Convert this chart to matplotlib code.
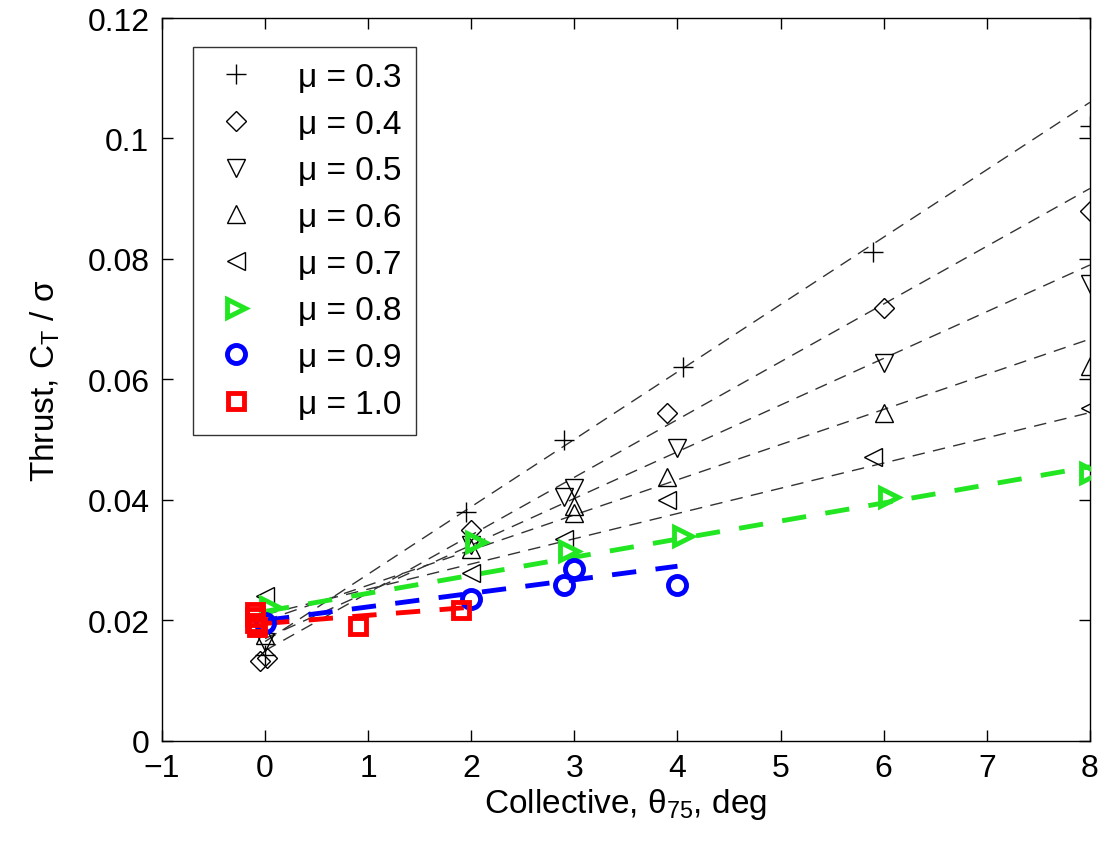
import matplotlib
matplotlib.use('Agg')
import matplotlib.pyplot as plt
import numpy as np

plt.rcParams['font.family'] = ['Liberation Sans', 'DejaVu Sans']
plt.rcParams['mathtext.fontset'] = 'custom'
plt.rcParams['mathtext.rm'] = 'Liberation Sans'
plt.rcParams['mathtext.it'] = 'Liberation Sans'
plt.rcParams['mathtext.default'] = 'rm'

# measured points, collective (deg) vs thrust CT/sigma
th_03 = [0.0, 1.95, 2.9, 4.05, 5.9, 8.0]
ct_03 = [0.0143, 0.0380, 0.0500, 0.0620, 0.0812, 0.1020]
th_04 = [-0.05, 0.02, 2.0, 3.9, 6.0, 8.0]
ct_04 = [0.0133, 0.0137, 0.0350, 0.0545, 0.0718, 0.0880]
th_05 = [0.0, 2.0, 2.9, 3.0, 4.0, 6.0, 8.0]
ct_05 = [0.0165, 0.0325, 0.0405, 0.0420, 0.0487, 0.0628, 0.0758]
th_06 = [0.0, 2.0, 3.0, 3.0, 3.9, 6.0, 8.0]
ct_06 = [0.0175, 0.0318, 0.0390, 0.0378, 0.0438, 0.0545, 0.0622]
th_07 = [0.0, 2.0, 2.9, 3.9, 5.9, 8.0]
ct_07 = [0.0240, 0.0278, 0.0335, 0.0400, 0.0472, 0.0553]
th_08 = [0.05, 2.05, 2.95, 4.05, 6.05, 8.0]
ct_08 = [0.0222, 0.0330, 0.0315, 0.0340, 0.0405, 0.0445]
th_09 = [0.0, 2.0, 2.9, 3.0, 4.0]
ct_09 = [0.0195, 0.0235, 0.0258, 0.0285, 0.0258]
th_10 = [-0.1, -0.1, -0.1, -0.08, 0.9, 1.9]
ct_10 = [0.0214, 0.0205, 0.0196, 0.0189, 0.0190, 0.0218]

# dashed fit lines: value at start and end of each line
fit_x0 = [0, 0, 0, 0, 0, 0, 0, 0]
fit_x1 = [8, 8, 8, 8, 8, 8, 4, 2]
fit_y0 = [0.0165, 0.0150, 0.0170, 0.0200, 0.0210, 0.0215, 0.0200, 0.0195]
fit_y1 = [0.1060, 0.0917, 0.0790, 0.0667, 0.0545, 0.0455, 0.0290, 0.0222]

labels = ['\u03bc = 0.3', '\u03bc = 0.4', '\u03bc = 0.5', '\u03bc = 0.6',
          '\u03bc = 0.7', '\u03bc = 0.8', '\u03bc = 0.9', '\u03bc = 1.0']

green = '#22e622'
series = [
    (th_03, ct_03, '+', 'black', 15, 1.0),
    (th_04, ct_04, 'D', 'black', 10, 1.0),
    (th_05, ct_05, 'v', 'black', 13, 1.0),
    (th_06, ct_06, '^', 'black', 13, 1.0),
    (th_07, ct_07, '<', 'black', 13, 1.0),
    (th_08, ct_08, '>', green, 13, 3.5),
    (th_09, ct_09, 'o', 'blue', 13, 3.5),
    (th_10, ct_10, 's', 'red', 12, 3.5),
]

fig = plt.figure(figsize=(11.02, 8.45), dpi=100)
ax = fig.add_axes([0.147, 0.122, 0.842, 0.8555])

for i, (th, ct, mk, col, ms, mew) in enumerate(series):
    if col == 'black':
        ax.plot([fit_x0[i], fit_x1[i]], [fit_y0[i], fit_y1[i]], color='#333333',
                lw=1.0, dashes=(9, 6), zorder=1)
    else:
        ax.plot([fit_x0[i], fit_x1[i]], [fit_y0[i], fit_y1[i]], color=col,
                lw=3.5, dashes=(5, 4), zorder=2)

for i, (th, ct, mk, col, ms, mew) in enumerate(series):
    if mk == '+':
        ax.plot(th, ct, ls='none', marker=mk, color=col, ms=ms, mew=mew,
                label=labels[i], zorder=3)
    else:
        ax.plot(th, ct, ls='none', marker=mk, mfc='none', mec=col, ms=ms,
                mew=mew, label=labels[i], zorder=3)

ax.set_xlim(-1, 8)
ax.set_ylim(0, 0.12)
ax.set_xticks(np.arange(-1, 9, 1))
ax.set_yticks([0, 0.02, 0.04, 0.06, 0.08, 0.1, 0.12])
ax.set_yticklabels(['0', '0.02', '0.04', '0.06', '0.08', '0.1', '0.12'])
ax.tick_params(direction='in', top=True, right=True, length=8, width=1,
               labelsize=23, pad=9)
for s in ax.spines.values():
    s.set_linewidth(1.0)

ax.set_xlabel(r'Collective, $\theta_{75}$, deg', fontsize=24, labelpad=2)
ax.set_ylabel(r'Thrust, C$_T$ / $\sigma$', fontsize=24, labelpad=18)

leg = ax.legend(loc='upper left', bbox_to_anchor=(0.033, 0.96), fontsize=24,
                frameon=True, fancybox=False, edgecolor='black',
                handletextpad=1.0, labelspacing=0.47, borderpad=0.45,
                handlelength=1.7, borderaxespad=0)
leg.get_frame().set_linewidth(1.0)

fig.savefig('out.png', dpi=100)
